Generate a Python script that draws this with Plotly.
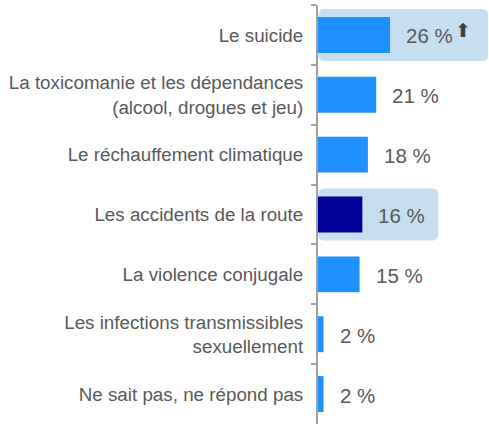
import plotly.graph_objects as go

# datos del grafico
categorias = ["Le suicide",
              "La toxicomanie et les dépendances<br>(alcool, drogues et jeu)",
              "Le réchauffement climatique",
              "Les accidents de la route",
              "La violence conjugale",
              "Les infections transmissibles<br>sexuellement",
              "Ne sait pas, ne répond pas"]
valores = [26, 21, 18, 16, 15, 2, 2]
etiquetas = ["26 %", "21 %", "18 %", "16 %", "15 %", "2 %", "2 %"]
resaltados = [0, 3]          # filas con recuadro azul claro
flecha_arriba = [0]          # filas con flecha de aumento

W, H = 489, 425
ML, MR, MT, MB = 318, 0, 5, 1
ancho_plot = W - ML - MR
alto_plot = H - MT - MB
x_max = 61.7
ppu = ancho_plot / x_max      # pixeles por unidad
n = len(categorias)

colores = ["#1E90FF"] * n
colores[3] = "#000099"

fig = go.Figure()
fig.add_trace(go.Bar(
    x=valores, y=categorias, orientation="h",
    marker=dict(color=colores, line=dict(width=0)),
    width=0.6, hoverinfo="skip"))

# etiquetas de valores
for i, v in enumerate(valores):
    fig.add_annotation(x=v, y=categorias[i], text=etiquetas[i], showarrow=False,
                       xanchor="left", xshift=14, yshift=-1,
                       font=dict(family="Arial, Liberation Sans", size=20.5, color="#595959"))
for i in flecha_arriba:
    fig.add_annotation(x=valores[i], y=categorias[i], text="⬆", showarrow=False,
                       xanchor="left", xshift=14 + 47 + 2, yshift=5,
                       font=dict(family="DejaVu Sans", size=19, color="#404040"))

# recuadros redondeados
extra_px = {0: 98, 3: 76}
for i in resaltados:
    x0 = 0.3 / ppu
    x1 = valores[i] + extra_px[i] / ppu
    yc = 1 - (i + 0.5) / n
    y0 = yc - 26 / alto_plot
    y1 = yc + 26 / alto_plot
    rx = 6 / ppu
    ry = 6 / alto_plot
    path = (f"M {x0+rx},{y1} L {x1-rx},{y1} Q {x1},{y1} {x1},{y1-ry} "
            f"L {x1},{y0+ry} Q {x1},{y0} {x1-rx},{y0} L {x0+rx},{y0} "
            f"Q {x0},{y0} {x0},{y0+ry} L {x0},{y1-ry} Q {x0},{y1} {x0+rx},{y1} Z")
    fig.add_shape(type="path", path=path, xref="x", yref="paper",
                  fillcolor="#C5DFF1", line=dict(width=0), layer="below")

fig.update_layout(
    width=W, height=H,
    margin=dict(l=ML, r=MR, t=MT, b=MB, autoexpand=False),
    plot_bgcolor="white", paper_bgcolor="white",
    showlegend=False, bargap=0.4,
    font=dict(family="Arial, Liberation Sans", size=18.8, color="#595959"),
)
fig.update_xaxes(range=[0, x_max], visible=False, fixedrange=True, automargin=False)
fig.update_yaxes(autorange="reversed", showline=True, linecolor="#A0A0A0", linewidth=2,
                 ticks="outside", tickson="boundaries", ticklen=5, tickwidth=2,
                 tickcolor="#A0A0A0", ticklabelstandoff=9, showgrid=False,
                 zeroline=False, fixedrange=True, automargin=False)

# sin margen del body para que el grafico empiece en (0, 0)
fig.write_html("out.html", config={"displayModeBar": False},
               post_script="document.body.style.margin='0';")
